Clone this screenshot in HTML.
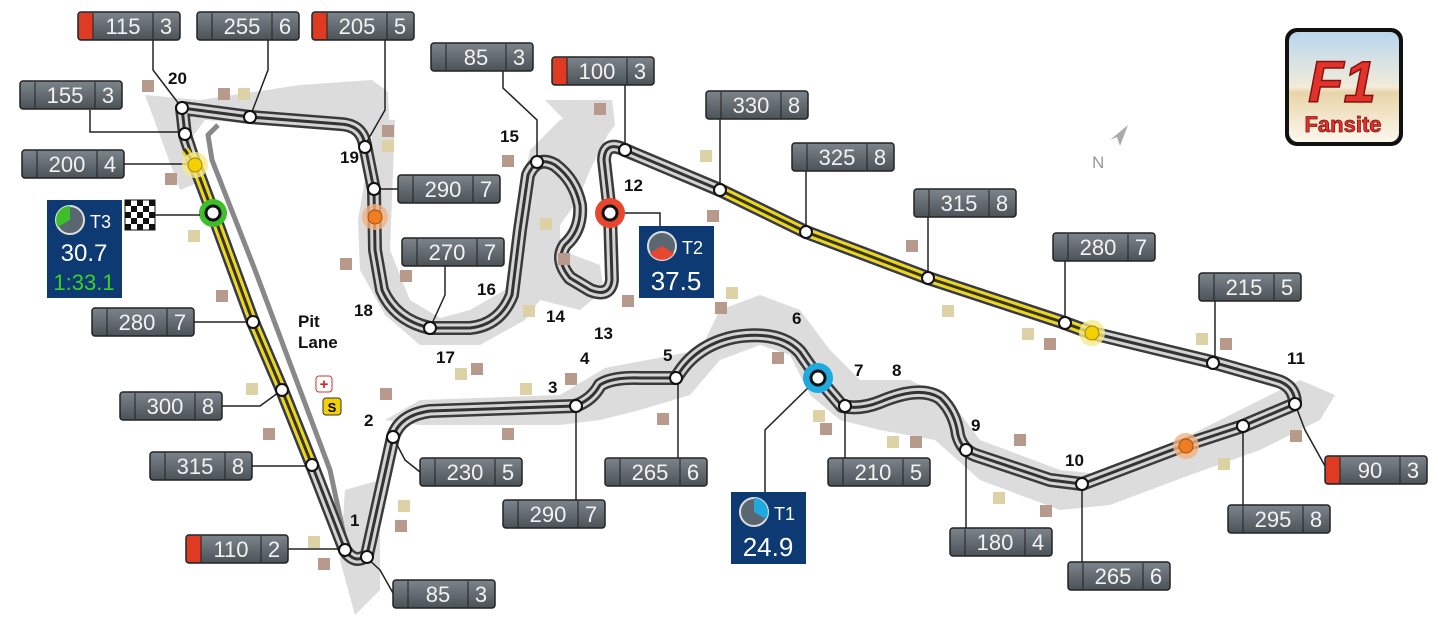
<!DOCTYPE html>
<html><head><meta charset="utf-8"><style>
html,body{margin:0;padding:0;background:#fff;}
svg{display:block;font-family:"Liberation Sans",sans-serif;}
.n{font-weight:bold;font-size:17px;fill:#111;}
.bx text{fill:#f2f2f2;font-size:22px;font-family:"Liberation Sans",sans-serif;}
</style></head><body>
<svg width="1438" height="622" viewBox="0 0 1438 622" xmlns="http://www.w3.org/2000/svg">
<defs>
<linearGradient id="bg" x1="0" y1="0" x2="0" y2="1"><stop offset="0" stop-color="#7d858c"/><stop offset="1" stop-color="#4b5258"/></linearGradient>
<linearGradient id="lg" x1="0" y1="0" x2="0" y2="1"><stop offset="0" stop-color="#b8d6ef"/><stop offset="0.5" stop-color="#f3ecd9"/><stop offset="0.55" stop-color="#e8d4a8"/><stop offset="1" stop-color="#fdf8ee"/></linearGradient>
<path id="trk" d="M182,108 L185,135 L195,165 L213,213 L253,322 L282,390 L312,465 L345,550 Q355,565 367,555 L393,437 Q400,415 430,411 L575,406 Q592,400 600,385 Q612,377 640,378 L676,378 Q695,345 735,337 Q780,330 800,352 L818,378 L842,406 Q860,410 880,402 Q920,385 940,398 Q955,412 958,435 Q962,450 975,455 L1050,480 L1082,484 L1185,445 L1243,426 L1295,404 Q1295,385 1275,380 L1212,362 L1092,333 L1062,322 L928,278 L806,232 L720,190 L625,150 Q605,140 604,160 L610,213 L612,280 Q610,298 590,290 L570,278 Q555,260 565,245 Q582,230 580,205 Q575,180 555,165 Q537,155 528,175 L520,230 L512,295 Q500,325 470,328 L430,328 Q395,320 382,290 L375,250 L374,190 L365,145 Q362,125 340,124 L250,117 Z"/>
<g id="box"><rect width="102" height="28" rx="3" fill="url(#bg)" stroke="#222" stroke-width="1.5"/><line x1="15" y1="1" x2="15" y2="27" stroke="#222"/><line x1="75" y1="1" x2="75" y2="27" stroke="#222"/></g>
<g id="rbox"><rect width="102" height="28" rx="3" fill="url(#bg)" stroke="#222" stroke-width="1.5"/><rect x="1" y="1" width="14" height="26" rx="2" fill="#e03a22"/><line x1="15" y1="1" x2="15" y2="27" stroke="#222"/><line x1="75" y1="1" x2="75" y2="27" stroke="#222"/></g>
</defs>

<!-- run-off areas -->
<g fill="#dcdcdc">
<path d="M145,95 L200,100 L300,85 L372,80 L388,92 L390,140 L345,130 L205,120 L190,140 L205,180 L180,190 Z"/>
<path d="M375,120 L395,120 L390,250 L410,300 L440,318 L470,310 L505,290 L520,250 L520,200 L530,150 L560,120 L590,110 L610,130 L590,170 L578,200 L560,225 L560,250 L600,265 L604,290 L580,310 L540,300 L525,320 L480,345 L420,345 L385,315 L360,270 L358,220 Z"/>
<path d="M545,100 L612,100 L615,125 L600,145 L572,128 Z"/>
<path d="M345,490 L380,480 L380,590 L355,615 L340,560 Z"/>
<path d="M385,420 L420,400 L560,395 L605,368 L700,350 L720,310 L760,295 L800,310 L830,350 L860,380 L910,380 L950,400 L980,440 L1060,470 L1110,475 L1200,430 L1300,380 L1335,395 L1320,420 L1260,450 L1190,475 L1110,505 L1060,510 L980,480 L935,440 L880,430 L840,420 L810,395 L790,355 L760,345 L720,360 L690,395 L640,410 L600,420 L560,425 L420,425 Z"/>
</g>

<!-- pit lane -->
<polyline points="218,125 208,135 212,160 255,270 300,390 330,470 345,540" fill="none" stroke="#888" stroke-width="5" stroke-linejoin="round"/>

<!-- track -->
<g fill="none" stroke-linejoin="round" stroke-linecap="round">
<use href="#trk" stroke="#3a3a3a" stroke-width="14"/>
<use href="#trk" stroke="#d4d4d4" stroke-width="9"/>
<use href="#trk" stroke="#333" stroke-width="3"/>
<polyline points="185,150 195,165 213,213 253,322 282,390 312,465" stroke="#f0d800" stroke-width="8" stroke-linecap="butt"/>
<polyline points="185,150 195,165 213,213 253,322 282,390 312,465" stroke="#333" stroke-width="3"/>
<polyline points="720,190 806,232 928,278 1062,322 1092,333" stroke="#f0d800" stroke-width="8" stroke-linecap="butt"/>
<polyline points="720,190 806,232 928,278 1062,322 1092,333" stroke="#333" stroke-width="3"/>
</g>

<!-- leader lines -->
<g stroke="#222" stroke-width="1.5" fill="none">
<polyline points="153,40 153,70 182,108"/>
<polyline points="268,40 268,70 250,117"/>
<polyline points="385,40 385,110 365,145"/>
<polyline points="90,110 90,132 185,132"/>
<polyline points="124,164 195,164"/>
<polyline points="194,322 253,322"/>
<polyline points="222,406 260,406 282,390"/>
<polyline points="252,466 312,466"/>
<polyline points="288,549 345,549"/>
<polyline points="393,593 380,570 367,558"/>
<polyline points="420,472 405,460 393,437"/>
<polyline points="576,500 576,406"/>
<polyline points="678,458 678,378"/>
<polyline points="765,492 765,430 818,378"/>
<polyline points="845,458 845,406"/>
<polyline points="966,528 966,450"/>
<polyline points="1082,562 1082,484"/>
<polyline points="1243,505 1243,426"/>
<polyline points="1325,466 1305,430 1295,404"/>
<polyline points="1215,301 1215,362"/>
<polyline points="1065,261 1065,322"/>
<polyline points="928,217 928,278"/>
<polyline points="806,171 806,232"/>
<polyline points="720,119 720,190"/>
<polyline points="625,85 625,150"/>
<polyline points="503,71 503,88 537,120 537,162"/>
<polyline points="398,189 374,189"/>
<polyline points="445,266 445,295 430,328"/>
<polyline points="610,213 660,213 660,226"/>
</g>

<!-- nodes -->
<g fill="#fff" stroke="#111" stroke-width="2">
<circle cx="182" cy="108" r="6"/><circle cx="185" cy="134" r="6"/><circle cx="250" cy="117" r="6"/><circle cx="365" cy="147" r="6"/><circle cx="374" cy="189" r="6"/>
<circle cx="430" cy="328" r="6"/><circle cx="537" cy="162" r="6"/><circle cx="625" cy="150" r="6"/><circle cx="720" cy="190" r="6"/><circle cx="806" cy="232" r="6"/><circle cx="928" cy="278" r="6"/><circle cx="1065" cy="323" r="6"/><circle cx="1213" cy="363" r="6"/><circle cx="1295" cy="404" r="6"/><circle cx="1243" cy="426" r="6"/><circle cx="1082" cy="484" r="6"/><circle cx="966" cy="450" r="6"/><circle cx="845" cy="406" r="6"/><circle cx="676" cy="378" r="6"/><circle cx="576" cy="406" r="6"/><circle cx="393" cy="437" r="6"/><circle cx="345" cy="550" r="6"/><circle cx="367" cy="557" r="6"/><circle cx="312" cy="465" r="6"/><circle cx="282" cy="390" r="6"/><circle cx="253" cy="322" r="6"/>
</g>
<!-- coloured markers -->
<circle cx="195" cy="165" r="13" fill="#f7e98a" opacity=".8"/><circle cx="195" cy="165" r="7" fill="#f5d000" stroke="#a08800"/>
<circle cx="375" cy="217" r="13" fill="#f4b07e" opacity=".8"/><circle cx="375" cy="217" r="7" fill="#f07d20" stroke="#a05010"/>
<circle cx="1092" cy="333" r="13" fill="#f7e98a" opacity=".8"/><circle cx="1092" cy="333" r="7" fill="#f5d000" stroke="#a08800"/>
<circle cx="1186" cy="446" r="13" fill="#f4b07e" opacity=".8"/><circle cx="1186" cy="446" r="7" fill="#f07d20" stroke="#a05010"/>
<circle cx="213" cy="213" r="14" fill="#3cbf2a"/><circle cx="213" cy="213" r="7" fill="#fff" stroke="#111" stroke-width="3"/>
<circle cx="610" cy="213" r="15" fill="#e8472f"/><circle cx="610" cy="213" r="7" fill="#fff" stroke="#111" stroke-width="3"/>
<circle cx="818" cy="378" r="15" fill="#1eaadf"/><circle cx="818" cy="378" r="7" fill="#fff" stroke="#111" stroke-width="3"/>

<!-- checkered flag -->
<g transform="translate(125,200)"><rect width="30" height="30" fill="#fff" stroke="#111"/>
<g fill="#111"><rect x="0" y="0" width="6" height="6"/><rect x="12" y="0" width="6" height="6"/><rect x="24" y="0" width="6" height="6"/><rect x="6" y="6" width="6" height="6"/><rect x="18" y="6" width="6" height="6"/><rect x="0" y="12" width="6" height="6"/><rect x="12" y="12" width="6" height="6"/><rect x="24" y="12" width="6" height="6"/><rect x="6" y="18" width="6" height="6"/><rect x="18" y="18" width="6" height="6"/><rect x="0" y="24" width="6" height="6"/><rect x="12" y="24" width="6" height="6"/><rect x="24" y="24" width="6" height="6"/></g></g>
<line x1="155" y1="215" x2="200" y2="215" stroke="#222" stroke-width="1.5"/>

<!-- sector boxes -->
<g font-family="Liberation Sans,sans-serif">
<rect x="47" y="200" width="75" height="98" fill="#0d3a72"/>
<circle cx="70" cy="220" r="14" fill="#5b6770" stroke="#ddd" stroke-width="2"/><path d="M70,220 L70,206 A14,14 0 0 0 58,227 Z" fill="#3cbf2a"/>
<text x="90" y="228" fill="#fff" font-size="18">T3</text>
<text x="84" y="261" fill="#fff" font-size="24" text-anchor="middle">30.7</text>
<text x="84" y="290" fill="#39d12a" font-size="22" text-anchor="middle">1:33.1</text>
<rect x="639" y="226" width="75" height="72" fill="#0d3a72"/>
<circle cx="662" cy="246" r="14" fill="#5b6770" stroke="#ddd" stroke-width="2"/><path d="M662,246 L674,253 A14,14 0 0 1 650,253 Z" fill="#e8472f"/>
<text x="682" y="254" fill="#fff" font-size="18">T2</text>
<text x="676" y="290" fill="#fff" font-size="26" text-anchor="middle">37.5</text>
<rect x="731" y="492" width="75" height="72" fill="#0d3a72"/>
<circle cx="754" cy="512" r="14" fill="#5b6770" stroke="#ddd" stroke-width="2"/><path d="M754,512 L754,498 A14,14 0 0 1 766,519 Z" fill="#1eaadf"/>
<text x="774" y="520" fill="#fff" font-size="18">T1</text>
<text x="768" y="556" fill="#fff" font-size="26" text-anchor="middle">24.9</text>
</g>

<!-- speed boxes -->
<g class="bx">
<g transform="translate(78,12)"><use href="#rbox"/><text x="45" y="22" text-anchor="middle">115</text><text x="88" y="22" text-anchor="middle">3</text></g>
<g transform="translate(197,12)"><use href="#box"/><text x="45" y="22" text-anchor="middle">255</text><text x="88" y="22" text-anchor="middle">6</text></g>
<g transform="translate(312,12)"><use href="#rbox"/><text x="45" y="22" text-anchor="middle">205</text><text x="88" y="22" text-anchor="middle">5</text></g>
<g transform="translate(431,43)"><use href="#box"/><text x="45" y="22" text-anchor="middle">85</text><text x="88" y="22" text-anchor="middle">3</text></g>
<g transform="translate(552,57)"><use href="#rbox"/><text x="45" y="22" text-anchor="middle">100</text><text x="88" y="22" text-anchor="middle">3</text></g>
<g transform="translate(706,91)"><use href="#box"/><text x="45" y="22" text-anchor="middle">330</text><text x="88" y="22" text-anchor="middle">8</text></g>
<g transform="translate(792,143)"><use href="#box"/><text x="45" y="22" text-anchor="middle">325</text><text x="88" y="22" text-anchor="middle">8</text></g>
<g transform="translate(914,189)"><use href="#box"/><text x="45" y="22" text-anchor="middle">315</text><text x="88" y="22" text-anchor="middle">8</text></g>
<g transform="translate(1053,233)"><use href="#box"/><text x="45" y="22" text-anchor="middle">280</text><text x="88" y="22" text-anchor="middle">7</text></g>
<g transform="translate(1199,273)"><use href="#box"/><text x="45" y="22" text-anchor="middle">215</text><text x="88" y="22" text-anchor="middle">5</text></g>
<g transform="translate(1325,456)"><use href="#rbox"/><text x="45" y="22" text-anchor="middle">90</text><text x="88" y="22" text-anchor="middle">3</text></g>
<g transform="translate(1228,505)"><use href="#box"/><text x="45" y="22" text-anchor="middle">295</text><text x="88" y="22" text-anchor="middle">8</text></g>
<g transform="translate(1068,562)"><use href="#box"/><text x="45" y="22" text-anchor="middle">265</text><text x="88" y="22" text-anchor="middle">6</text></g>
<g transform="translate(950,528)"><use href="#box"/><text x="45" y="22" text-anchor="middle">180</text><text x="88" y="22" text-anchor="middle">4</text></g>
<g transform="translate(828,458)"><use href="#box"/><text x="45" y="22" text-anchor="middle">210</text><text x="88" y="22" text-anchor="middle">5</text></g>
<g transform="translate(605,458)"><use href="#box"/><text x="45" y="22" text-anchor="middle">265</text><text x="88" y="22" text-anchor="middle">6</text></g>
<g transform="translate(503,500)"><use href="#box"/><text x="45" y="22" text-anchor="middle">290</text><text x="88" y="22" text-anchor="middle">7</text></g>
<g transform="translate(420,458)"><use href="#box"/><text x="45" y="22" text-anchor="middle">230</text><text x="88" y="22" text-anchor="middle">5</text></g>
<g transform="translate(393,580)"><use href="#box"/><text x="45" y="22" text-anchor="middle">85</text><text x="88" y="22" text-anchor="middle">3</text></g>
<g transform="translate(186,535)"><use href="#rbox"/><text x="45" y="22" text-anchor="middle">110</text><text x="88" y="22" text-anchor="middle">2</text></g>
<g transform="translate(150,452)"><use href="#box"/><text x="45" y="22" text-anchor="middle">315</text><text x="88" y="22" text-anchor="middle">8</text></g>
<g transform="translate(120,392)"><use href="#box"/><text x="45" y="22" text-anchor="middle">300</text><text x="88" y="22" text-anchor="middle">8</text></g>
<g transform="translate(92,308)"><use href="#box"/><text x="45" y="22" text-anchor="middle">280</text><text x="88" y="22" text-anchor="middle">7</text></g>
<g transform="translate(22,150)"><use href="#box"/><text x="45" y="22" text-anchor="middle">200</text><text x="88" y="22" text-anchor="middle">4</text></g>
<g transform="translate(20,81)"><use href="#box"/><text x="45" y="22" text-anchor="middle">155</text><text x="88" y="22" text-anchor="middle">3</text></g>
<g transform="translate(398,175)"><use href="#box"/><text x="45" y="22" text-anchor="middle">290</text><text x="88" y="22" text-anchor="middle">7</text></g>
<g transform="translate(402,238)"><use href="#box"/><text x="45" y="22" text-anchor="middle">270</text><text x="88" y="22" text-anchor="middle">7</text></g>
</g>

<!-- turn numbers -->
<g class="n">
<text x="168" y="84">20</text><text x="340" y="163">19</text><text x="354" y="316">18</text><text x="436" y="363">17</text><text x="477" y="295">16</text><text x="500" y="142">15</text><text x="546" y="322">14</text><text x="594" y="339">13</text><text x="624" y="191">12</text>
<text x="364" y="426">2</text><text x="350" y="526">1</text><text x="548" y="393">3</text><text x="580" y="364">4</text><text x="663" y="361">5</text><text x="792" y="324">6</text><text x="854" y="376">7</text><text x="892" y="376">8</text><text x="971" y="431">9</text><text x="1065" y="466">10</text><text x="1287" y="364">11</text>
<text x="298" y="327">Pit</text><text x="298" y="348">Lane</text>
</g>
<rect x="316" y="376" width="16" height="16" rx="3" fill="#fff" stroke="#c33"/><text x="324" y="389" fill="#d22" font-size="15" font-weight="bold" text-anchor="middle">+</text>
<rect x="323" y="398" width="18" height="17" rx="3" fill="#f5d000" stroke="#333"/><text x="332" y="412" font-size="13" font-weight="bold" text-anchor="middle">S</text>

<!-- North -->
<path d="M1110,140 L1128,125 L1120,146 L1117,137 Z" fill="#aaa"/>
<text x="1092" y="168" font-size="17" fill="#999">N</text>

<!-- small squares -->
<g fill="#b89a8c">
<rect x="142" y="80" width="12" height="12"/><rect x="218" y="88" width="12" height="12"/><rect x="165" y="173" width="12" height="12"/><rect x="382" y="125" width="12" height="12"/><rect x="340" y="258" width="12" height="12"/><rect x="400" y="270" width="12" height="12"/><rect x="502" y="155" width="12" height="12"/><rect x="594" y="103" width="12" height="12"/><rect x="707" y="210" width="12" height="12"/><rect x="622" y="295" width="12" height="12"/><rect x="715" y="302" width="12" height="12"/><rect x="558" y="253" width="12" height="12"/><rect x="471" y="363" width="12" height="12"/><rect x="565" y="373" width="12" height="12"/><rect x="380" y="388" width="12" height="12"/><rect x="216" y="290" width="12" height="12"/><rect x="263" y="428" width="12" height="12"/><rect x="502" y="428" width="12" height="12"/><rect x="657" y="413" width="12" height="12"/><rect x="772" y="352" width="12" height="12"/><rect x="820" y="423" width="12" height="12"/><rect x="906" y="240" width="12" height="12"/><rect x="1044" y="338" width="12" height="12"/><rect x="1014" y="434" width="12" height="12"/><rect x="1220" y="338" width="12" height="12"/><rect x="1290" y="430" width="12" height="12"/><rect x="910" y="436" width="12" height="12"/><rect x="395" y="520" width="12" height="12"/><rect x="318" y="558" width="12" height="12"/><rect x="1040" y="505" width="12" height="12"/></g>
<g fill="#ddd2a6">
<rect x="238" y="88" width="12" height="12"/><rect x="188" y="230" width="12" height="12"/><rect x="382" y="140" width="12" height="12"/><rect x="700" y="150" width="12" height="12"/><rect x="540" y="218" width="12" height="12"/><rect x="523" y="305" width="12" height="12"/><rect x="726" y="287" width="12" height="12"/><rect x="455" y="368" width="12" height="12"/><rect x="520" y="383" width="12" height="12"/><rect x="246" y="383" width="12" height="12"/><rect x="813" y="410" width="12" height="12"/><rect x="887" y="436" width="12" height="12"/><rect x="942" y="305" width="12" height="12"/><rect x="1022" y="328" width="12" height="12"/><rect x="1196" y="333" width="12" height="12"/><rect x="1218" y="458" width="12" height="12"/><rect x="993" y="492" width="12" height="12"/><rect x="398" y="500" width="12" height="12"/><rect x="308" y="536" width="12" height="12"/></g>

<!-- logo -->
<g>
<rect x="1285" y="28" width="118" height="118" rx="12" fill="#111"/>
<rect x="1289" y="32" width="110" height="110" rx="9" fill="url(#lg)"/>
<text x="1342" y="102" text-anchor="middle" font-size="58" font-weight="bold" font-style="italic" fill="#e0332b" stroke="#8a1010" stroke-width="1.5">F1</text>
<text x="1343" y="132" text-anchor="middle" font-size="22" font-weight="bold" fill="#e0332b" stroke="#8a1010" stroke-width=".8">Fansite</text>
</g>
</svg>
</body></html>
